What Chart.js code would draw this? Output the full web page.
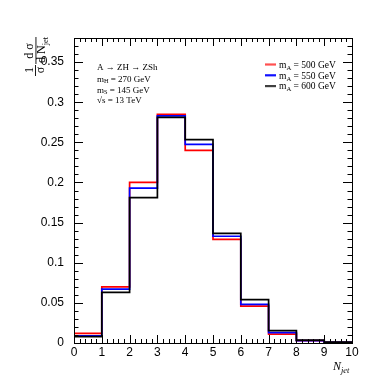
<!DOCTYPE html>
<html>
<head>
<meta charset="utf-8">
<script src="https://cdn.jsdelivr.net/npm/chart.js@4.4.1/dist/chart.umd.min.js"></script>
<style>
  html, body { margin: 0; padding: 0; background: #fff; }
  canvas { display: block; }
</style>
</head>
<body>
<canvas id="njetChart" width="391" height="382"></canvas>
<script>
// bin edges of the N_jet histogram
const binEdges = [0, 1, 2, 3, 4, 5, 6, 7, 8, 9, 10];

// normalized distributions, one per m_A hypothesis
const massA = ['500', '550', '600'];
const seriesColors = ['#ff0000', '#0000ff', '#000000'];
const legendColors = ['#ff5050', '#1010ff', '#404040'];
const valsMA500 = [0.012, 0.070, 0.200, 0.285, 0.240, 0.129, 0.046, 0.011, 0.003, 0.0008];
const valsMA550 = [0.009, 0.067, 0.193, 0.283, 0.2475, 0.133, 0.048, 0.013, 0.003, 0.0008];
const valsMA600 = [0.008, 0.063, 0.181, 0.281, 0.2535, 0.1365, 0.054, 0.0155, 0.0035, 0.001];

// text box in the upper left
const infoLines = [
    [{ t: 'A \u2192 ZH \u2192 ZSh' }],
    [{ t: 'm' }, { t: 'H', sub: true }, { t: ' = 270 GeV' }],
    [{ t: 'm' }, { t: 'S', sub: true }, { t: ' = 145 GeV' }],
    [{ t: '\u221As = 13 TeV' }]
];
const infoBaselines = [70, 81.5, 92.5, 103];

const SANS = '"Liberation Sans", Arial, Helvetica, sans-serif';
const SERIF = '"Liberation Serif", "Times New Roman", serif';

// turn bin contents into a closed step outline
function histPoints(vals) {
    const pts = [{ x: binEdges[0], y: 0 }];
    vals.forEach((v, i) => pts.push({ x: binEdges[i], y: v }));
    pts.push({ x: binEdges[binEdges.length - 1], y: 0 });
    return pts;
}

// write text with optional subscripts, returns end x
function drawRich(ctx, x, y, parts, size, family, style) {
    let cx = x;
    parts.forEach(p => {
        const fs = p.sub ? size * 0.7 : size;
        ctx.font = `${style || ''} ${fs}px ${family}`;
        ctx.fillText(p.t, cx, p.sub ? y + size * 0.22 : y);
        cx += ctx.measureText(p.t).width;
    });
    return cx;
}

const frameAndText = {
    id: 'frameAndText',
    afterDraw(chart) {
        const ctx = chart.ctx;
        const { left, right, top, bottom } = chart.chartArea;
        const xs = chart.scales.x, ys = chart.scales.y;
        ctx.save();

        // frame
        ctx.strokeStyle = '#000';
        ctx.lineWidth = 1;
        ctx.strokeRect(Math.round(left) + 0.5, Math.round(top) + 0.5,
            Math.round(right - left), Math.round(bottom - top));

        // ticks, pointing inwards, on all four sides
        ctx.beginPath();
        for (let i = 0; i <= 50; i++) {
            const v = i * 0.2;
            const px = Math.round(xs.getPixelForValue(v)) + 0.5;
            const len = i % 5 === 0 ? 8 : 4;
            ctx.moveTo(px, bottom); ctx.lineTo(px, bottom - len);
            ctx.moveTo(px, top); ctx.lineTo(px, top + len);
        }
        for (let i = 0; i <= 38; i++) {
            const v = i * 0.01;
            const py = Math.round(ys.getPixelForValue(v)) + 0.5;
            const len = i % 5 === 0 ? 9 : 4.5;
            ctx.moveTo(left, py); ctx.lineTo(left + len, py);
            ctx.moveTo(right, py); ctx.lineTo(right - len, py);
        }
        ctx.stroke();

        ctx.fillStyle = '#000';
        ctx.textBaseline = 'alphabetic';

        // y title: 1/sigma dsigma/dN_jet, rotated
        ctx.save();
        ctx.rotate(-Math.PI / 2);
        ctx.textAlign = 'center';
        ctx.font = `12px ${SERIF}`;
        ctx.fillText('1', -70, 33);
        ctx.fillText('\u03C3', -70, 44);
        ctx.fillRect(-76, 35, 11, 0.9);
        ctx.fillText('d \u03C3', -51, 33);
        ctx.fillRect(-64, 35.5, 27, 0.9);
        ctx.textAlign = 'left';
        drawRich(ctx, -63, 45, [{ t: 'd N' }, { t: 'jet', sub: true }], 12, SERIF);
        ctx.restore();

        // x title
        ctx.textAlign = 'left';
        drawRich(ctx, 333, 370, [{ t: 'N' }, { t: 'jet', sub: true }], 12, SERIF, 'italic');

        // info box
        infoLines.forEach((parts, i) => {
            drawRich(ctx, 97, infoBaselines[i], parts, 9, SERIF);
        });

        // legend
        massA.forEach((m, i) => {
            const y = 64.5 + i * 10.8;
            ctx.strokeStyle = legendColors[i];
            ctx.lineWidth = 2.2;
            ctx.beginPath();
            ctx.moveTo(265, y); ctx.lineTo(276, y);
            ctx.stroke();
            drawRich(ctx, 279, y + 3.3,
                [{ t: 'm' }, { t: 'A', sub: true }, { t: ` = ${m} GeV` }], 9.5, SERIF);
        });
        ctx.restore();
    }
};

const ctx = document.getElementById('njetChart').getContext('2d');
const seriesVals = [valsMA500, valsMA550, valsMA600];

new Chart(ctx, {
    type: 'line',
    data: {
        datasets: seriesVals.map((vals, i) => ({
            label: `m_A = ${massA[i]} GeV`,
            data: histPoints(vals),
            borderColor: seriesColors[i],
            borderWidth: 1.7,
            pointRadius: 0,
            stepped: 'before',
            fill: false,
            order: 3 - i // black on top
        }))
    },
    options: {
        responsive: false,
        animation: false,
        devicePixelRatio: 1,
        layout: { padding: { left: 24, right: 39, top: 38, bottom: 0 } },
        plugins: { legend: { display: false }, tooltip: { enabled: false } },
        scales: {
            x: {
                type: 'linear',
                min: 0,
                max: 10,
                afterFit: s => { s.height = 39; },
                grid: { display: false },
                border: { display: false },
                ticks: {
                    stepSize: 1,
                    padding: -6,
                    maxRotation: 0,
                    color: '#000',
                    font: { family: SANS, size: 12 }
                }
            },
            y: {
                min: 0,
                max: 0.38,
                afterFit: s => { s.width = 50; },
                grid: { display: false },
                border: { display: false },
                ticks: {
                    stepSize: 0.05,
                    includeBounds: false,
                    padding: 2,
                    color: '#000',
                    font: { family: SANS, size: 12 },
                    callback: v => String(Math.round(v * 100) / 100)
                }
            }
        }
    },
    plugins: [frameAndText]
});
</script>
</body>
</html>
